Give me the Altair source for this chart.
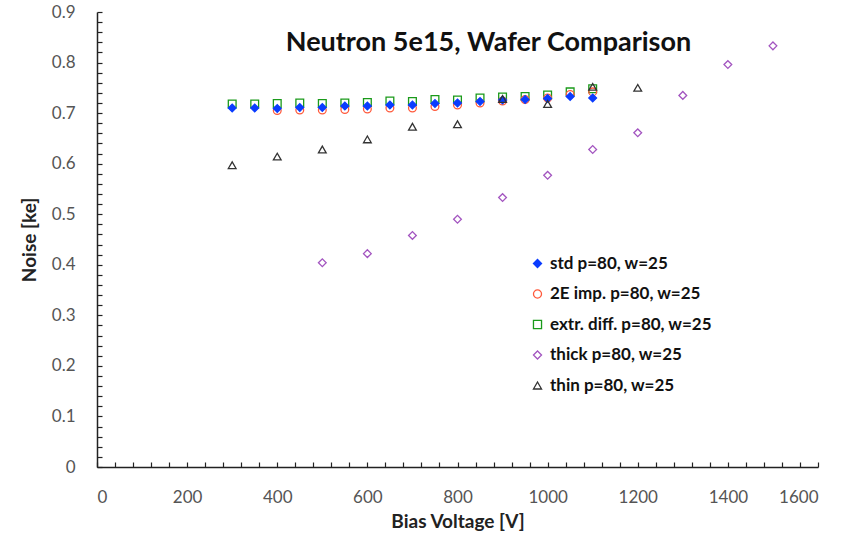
import altair as alt
import pandas as pd

series_names = ["std p=80, w=25", "2E imp. p=80, w=25", "extr. diff. p=80, w=25",
                "thick p=80, w=25", "thin p=80, w=25"]
colors = ["#0a3cff", "#ff5a3c", "#1a9a1a", "#a355c0", "#333333"]
fills = ["#0a3cff", "transparent", "transparent", "transparent", "transparent"]
shapes = ["diamond", "circle", "square", "diamond", "triangle-up"]

std_x = [300, 350, 400, 450, 500, 550, 600, 650, 700, 750, 800, 850, 900, 950, 1000, 1050, 1100]
std_y = [0.710, 0.710, 0.709, 0.711, 0.711, 0.714, 0.714, 0.716, 0.716, 0.719, 0.720, 0.723, 0.726, 0.727, 0.729, 0.733, 0.730]

imp_x = [400, 450, 500, 550, 600, 650, 700, 750, 800, 850, 900, 950, 1000, 1050, 1100]
imp_y = [0.705, 0.706, 0.706, 0.707, 0.708, 0.710, 0.710, 0.713, 0.716, 0.720, 0.724, 0.727, 0.730, 0.737, 0.742]

ext_x = [300, 350, 400, 450, 500, 550, 600, 650, 700, 750, 800, 850, 900, 950, 1000, 1050, 1100]
ext_y = [0.718, 0.718, 0.719, 0.720, 0.719, 0.720, 0.721, 0.724, 0.723, 0.727, 0.726, 0.730, 0.732, 0.733, 0.736, 0.742, 0.748]

thick_x = [500, 600, 700, 800, 900, 1000, 1100, 1200, 1300, 1400, 1500]
thick_y = [0.404, 0.422, 0.458, 0.490, 0.533, 0.577, 0.628, 0.661, 0.735, 0.796, 0.833]

thin_x = [300, 400, 500, 600, 700, 800, 900, 1000, 1100, 1200]
thin_y = [0.597, 0.614, 0.628, 0.648, 0.673, 0.678, 0.728, 0.718, 0.752, 0.750]

x_tick_values = list(range(0, 1601, 40))
y_tick_values = [round(i * 0.02, 2) for i in range(0, 46)]

draw_order = {series_names[2]: 0, series_names[1]: 1, series_names[0]: 2,
              series_names[3]: 3, series_names[4]: 4}

rows = []
for name, xs, ys in zip(series_names,
                        [std_x, imp_x, ext_x, thick_x, thin_x],
                        [std_y, imp_y, ext_y, thick_y, thin_y]):
    for x, y in zip(xs, ys):
        rows.append({"series": name, "voltage": x, "noise": y, "order": draw_order[name]})
df = pd.DataFrame(rows)

FONT = "Lato"

legend = alt.Legend(
    title=None, orient="none", legendX=432, legendY=243,
    labelFont=FONT, labelFontSize=17, labelFontWeight="bold", labelColor="#111111",
    labelLimit=400,
    symbolSize=65, symbolStrokeWidth=1.3, rowPadding=12.5, labelOffset=4,
)

chart = alt.Chart(df).mark_point(size=60, strokeWidth=1.3, opacity=1).encode(
    x=alt.X("voltage:Q", title="Bias Voltage [V]",
            scale=alt.Scale(domain=[0, 1600], nice=False, zero=False),
            axis=alt.Axis(values=x_tick_values,
                          labelExpr="datum.value % 200 === 0 ? datum.label : ''",
                          format="d", labelOverlap=False,
                          tickSize={"expr": "-5"}, labelPadding=27)),
    y=alt.Y("noise:Q", title="Noise [ke]",
            scale=alt.Scale(domain=[0, 0.9], nice=False),
            axis=alt.Axis(values=y_tick_values,
                          labelExpr="abs(datum.value*10 - round(datum.value*10)) < 0.001 ? (datum.value == 0 ? '0' : format(datum.value, '.1f')) : ''",
                          labelOverlap=False,
                          tickSize={"expr": "-5"}, labelPadding=27)),
    color=alt.Color("series:N", scale=alt.Scale(domain=series_names, range=colors), legend=legend),
    fill=alt.Fill("series:N", scale=alt.Scale(domain=series_names, range=fills), legend=legend),
    shape=alt.Shape("series:N", scale=alt.Scale(domain=series_names, range=shapes), legend=legend),
    order=alt.Order("order:Q"),
).properties(
    width=721, height=455,
    title=alt.TitleParams("Neutron 5e15, Wafer Comparison", font=FONT, fontSize=27,
                          fontWeight="bold", color="#111111", anchor="middle",
                          dy=54, dx=31, offset=0),
    autosize=alt.AutoSizeParams(type="none"),
    padding={"left": 97, "top": 12, "right": 39, "bottom": 74},
).configure_view(stroke=None).configure_axis(
    grid=False, domainColor="#222222", domainWidth=1.5, tickColor="#222222", tickWidth=1.2,
    labelFont=FONT, labelFontSize=17, labelColor="#555555",
    titleFont=FONT, titleFontSize=19, titleFontWeight="bold", titleColor="#222222",
).configure_axisY(titlePadding=12).configure_axisX(titlePadding=7)

chart.save("out.html", embed_options={"renderer": "svg", "actions": False})
